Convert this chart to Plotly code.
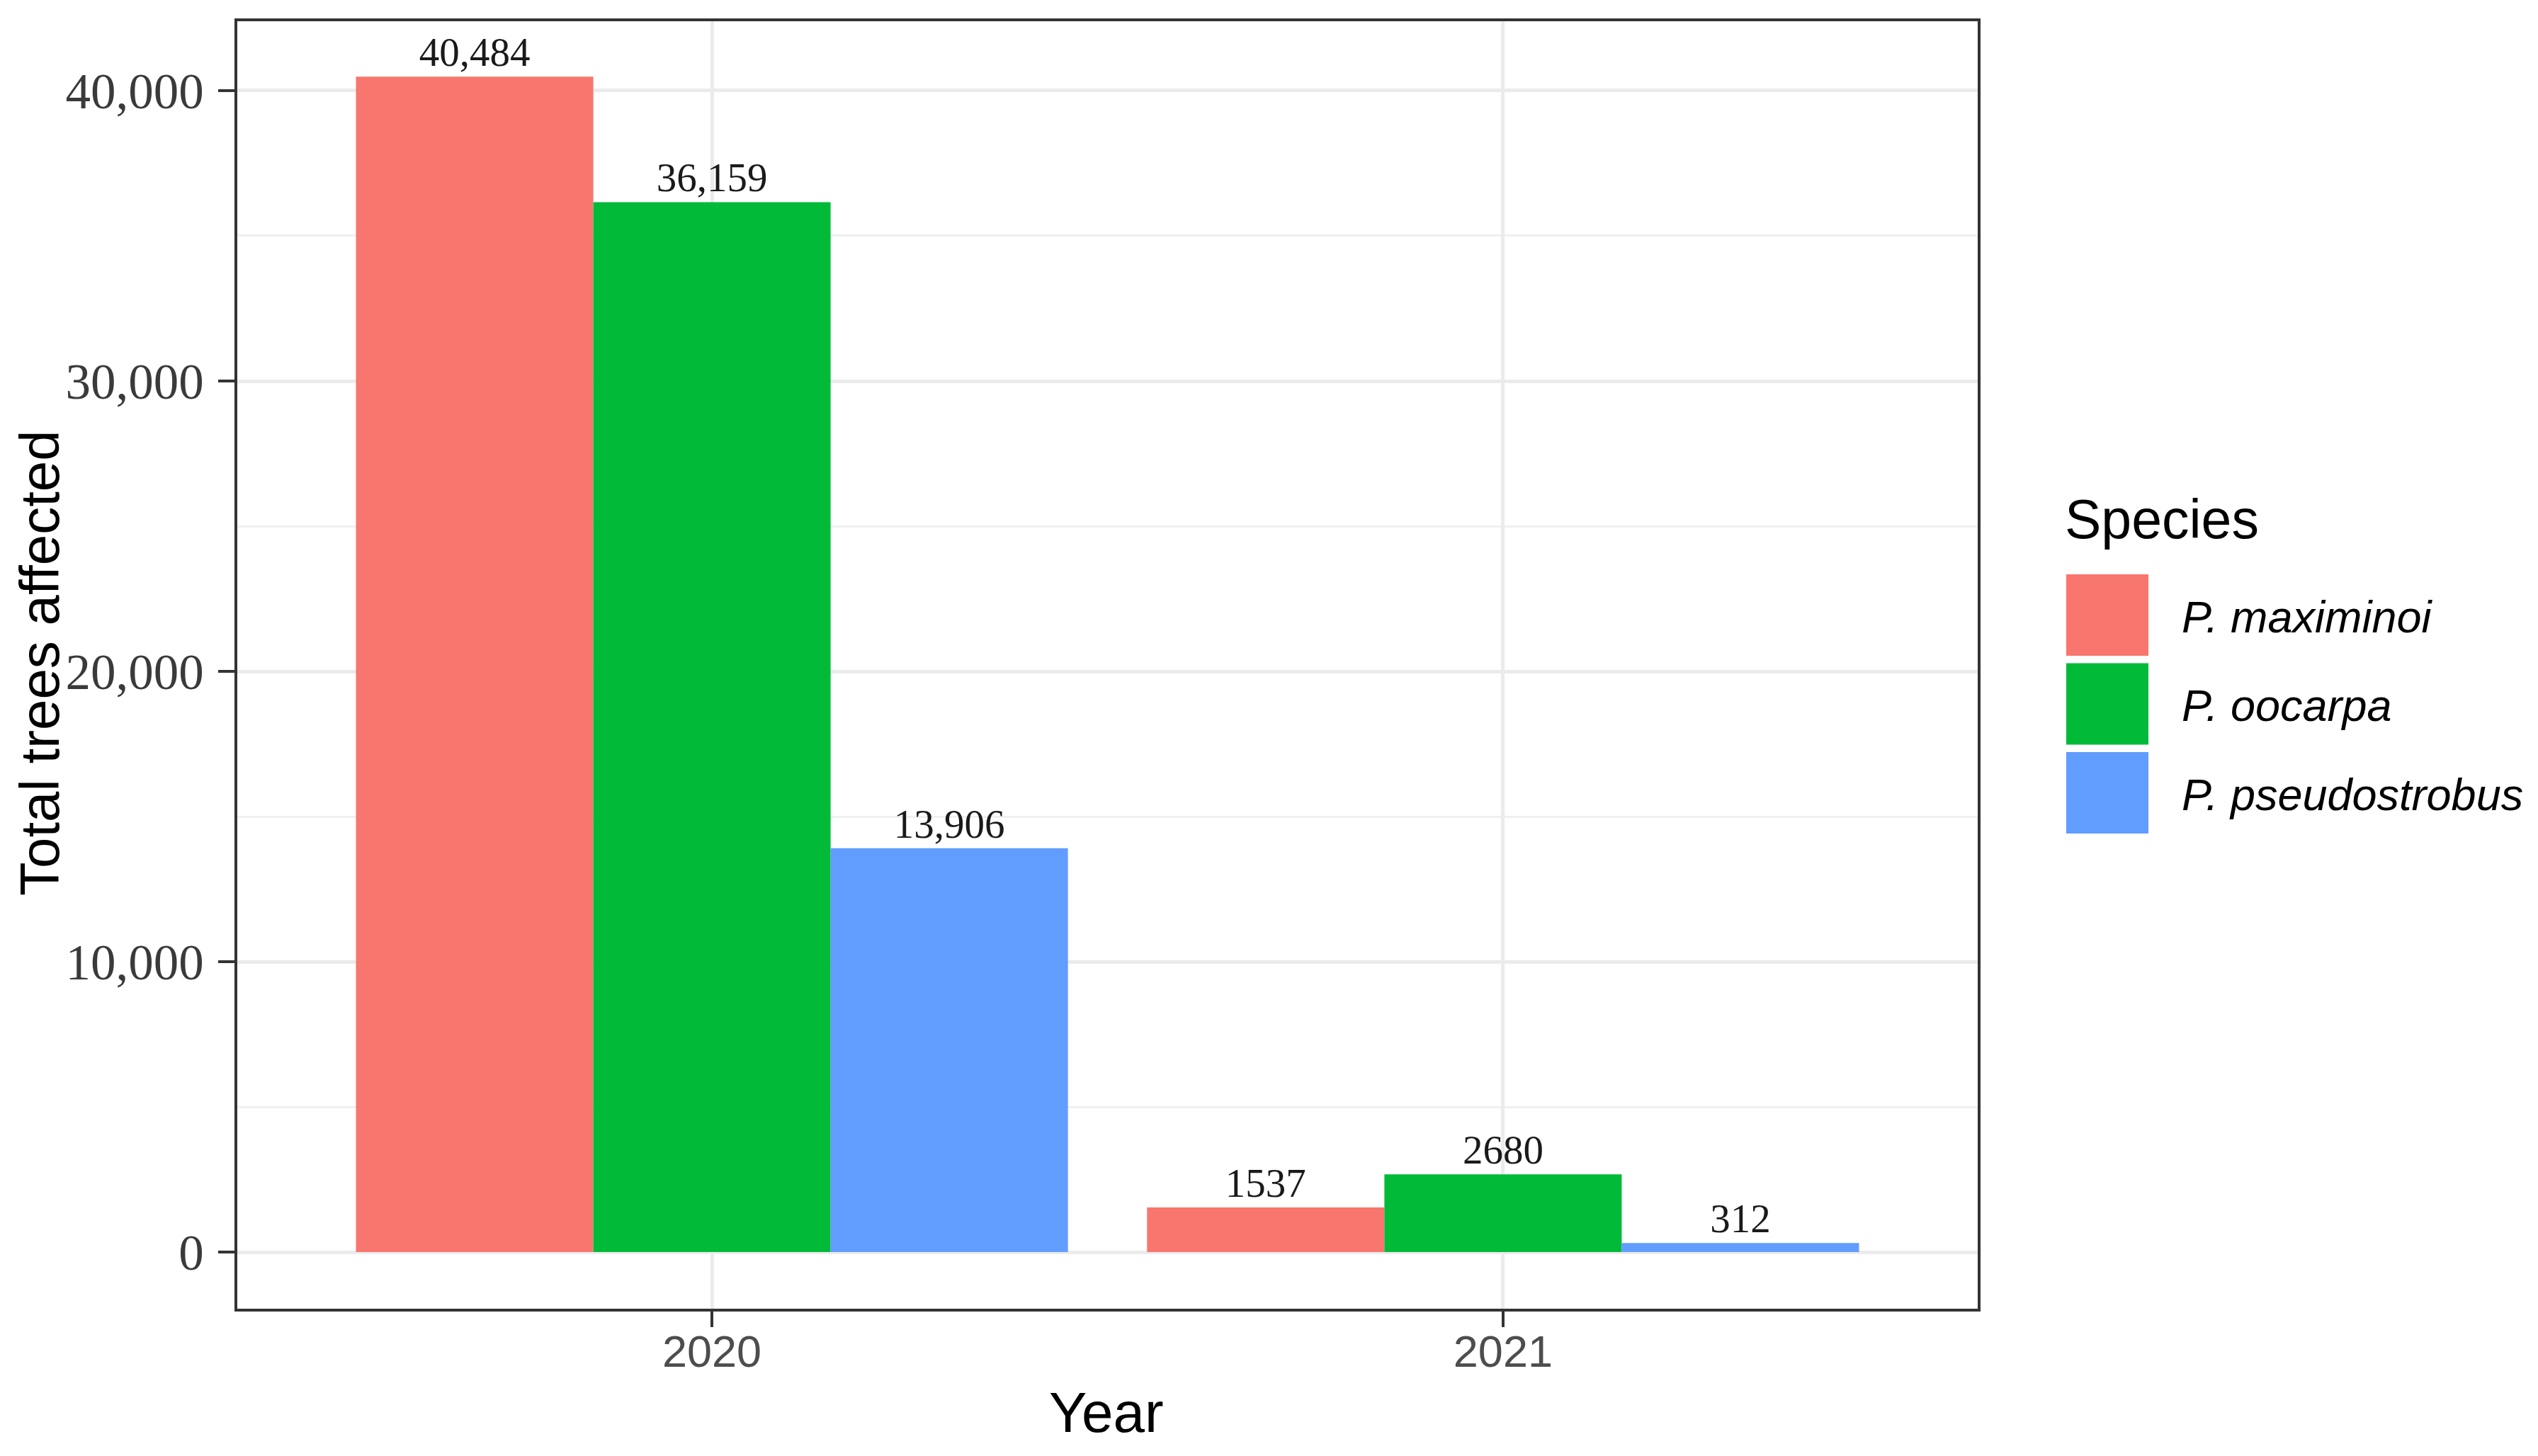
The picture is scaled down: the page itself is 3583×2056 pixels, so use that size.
import plotly.graph_objects as go

# ---- data ----
years = ["2020", "2021"]
species = ["P. maximinoi", "P. oocarpa", "P. pseudostrobus"]
maximinoi = [40484, 1537]
oocarpa = [36159, 2680]
pseudostrobus = [13906, 312]
colors = ["#F8766D", "#00BA38", "#619CFF"]
y_ticks = [0, 10000, 20000, 30000, 40000]

series = [maximinoi, oocarpa, pseudostrobus]

W, H = 3583, 2056
OFF = 8  # page body margin offset
L, R, T, B = 335, 2792, 30, 1848  # plot area in target pixels


def px_x(p):
    return (p - L) / (R - L)


def px_y(p):
    return (B - p) / (B - T)


def label(v):
    return f"{v:,}" if v >= 10000 else str(v)


fig = go.Figure()
for name, vals, col in zip(species, series, colors):
    fig.add_trace(go.Bar(
        x=years, y=vals, name=name,
        marker=dict(color=col, line=dict(width=0)),
        text=[label(v) for v in vals],
        textposition="outside",
        textfont=dict(family="Liberation Serif", size=57, color="#1a1a1a"),
        cliponaxis=False,
        showlegend=False,
    ))

fig.update_layout(
    width=W, height=H,
    margin=dict(l=L - OFF, r=W - R + OFF, t=T - OFF, b=H - B + OFF, autoexpand=False),
    paper_bgcolor="white", plot_bgcolor="white",
    barmode="group", bargap=0.1, bargroupgap=0,
)

fig.update_xaxes(
    type="category", range=[-0.6, 1.6],
    showgrid=True, gridcolor="#ebebeb", gridwidth=5,
    showline=True, mirror=True, linecolor="#333333", linewidth=4,
    ticks="outside", ticklen=22, tickwidth=4, tickcolor="#333333",
    tickfont=dict(family="Liberation Sans", size=63, color="#4d4d4d"),
    ticklabelstandoff=-20,
    zeroline=False,
)
fig.update_yaxes(
    range=[-1951, 42390],
    tickvals=y_ticks, tickformat=",",
    showgrid=True, gridcolor="#ebebeb", gridwidth=5,
    minor=dict(dtick=5000, tick0=0, showgrid=True, gridcolor="#f0f0f0", gridwidth=3),
    showline=True, mirror=True, linecolor="#333333", linewidth=4,
    ticks="outside", ticklen=23, tickwidth=4, tickcolor="#333333",
    tickfont=dict(family="Liberation Serif", size=71, color="#3a3a3a"),
    ticklabelstandoff=6,
    zeroline=False,
)

annotations = [
    dict(text="Year", x=px_x(1562), y=px_y(1995), xref="paper", yref="paper",
         xanchor="center", yanchor="middle", showarrow=False,
         font=dict(family="Liberation Sans", size=80, color="black")),
    dict(text="Total trees affected", x=px_x(56), y=px_y(936), xref="paper", yref="paper",
         xanchor="center", yanchor="middle", showarrow=False, textangle=-90,
         font=dict(family="Liberation Sans", size=78, color="black")),
    dict(text="Species", x=px_x(2913), y=px_y(733), xref="paper", yref="paper",
         xanchor="left", yanchor="middle", showarrow=False,
         font=dict(family="Liberation Sans", size=77, color="black")),
]

shapes = []
key_top0, key_step, key_h = 811, 125.5, 115
for i, (name, col) in enumerate(zip(species, colors)):
    top = key_top0 + i * key_step
    shapes.append(dict(type="rect", xref="paper", yref="paper",
                       x0=px_x(2917), x1=px_x(3033), y0=px_y(top + key_h), y1=px_y(top),
                       fillcolor=col, line=dict(width=0), layer="above"))
    annotations.append(dict(text=f"<i>{name}</i>", x=px_x(3078), y=px_y(top + key_h / 2 + 2),
                            xref="paper", yref="paper", xanchor="left", yanchor="middle",
                            showarrow=False,
                            font=dict(family="Liberation Sans", size=63, color="black")))

fig.update_layout(annotations=annotations, shapes=shapes)
fig.write_html("out.html")
